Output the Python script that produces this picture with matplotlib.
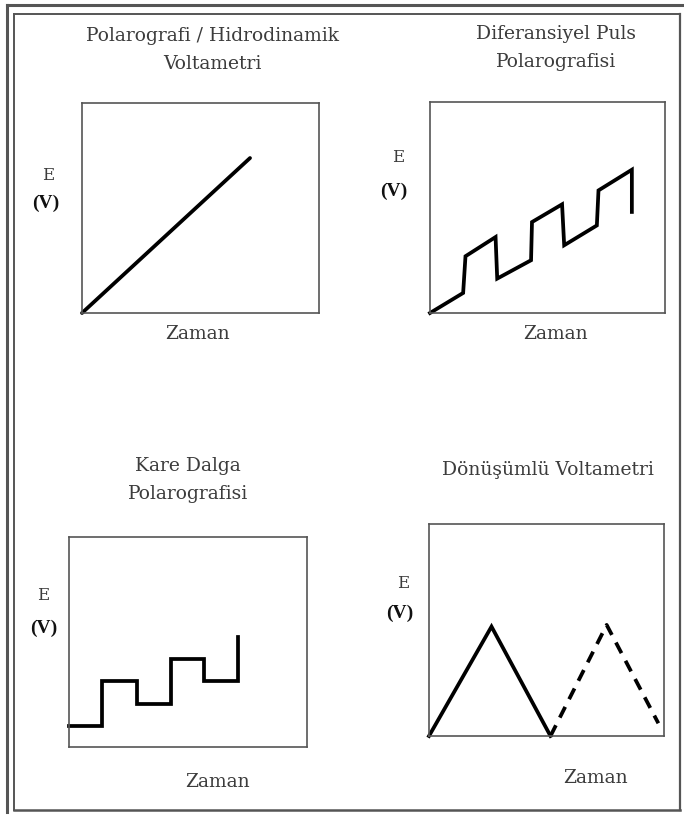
import matplotlib
matplotlib.use("Agg")
import matplotlib.pyplot as plt
from matplotlib.lines import Line2D

W, H = 684, 816

# Potential-time waveforms (time and potential as fractions of each frame)
linear_t = [0.0, 0.709]
linear_e = [0.0, 0.738]

dpp_t = [0.0, 0.141, 0.151, 0.279, 0.286, 0.430, 0.434, 0.562, 0.571, 0.710, 0.717, 0.859, 0.859]
dpp_e = [0.0, 0.095, 0.269, 0.360, 0.163, 0.250, 0.431, 0.515, 0.321, 0.415, 0.581, 0.679, 0.479]

swv_t = [0.0, 0.137, 0.137, 0.284, 0.284, 0.427, 0.427, 0.568, 0.568, 0.712, 0.712]
swv_e = [0.098, 0.098, 0.314, 0.314, 0.206, 0.206, 0.421, 0.421, 0.314, 0.314, 0.524]

cv_t = [0.0, 0.266, 0.517]
cv_e = [0.0, 0.516, 0.0]
cv2_t = [0.517, 0.756, 0.976]
cv2_e = [0.0, 0.524, 0.06]

titles = [
    "Polarografi / Hidrodinamik\nVoltametri",
    "Diferansiyel Puls\nPolarografisi",
    "Kare Dalga\nPolarografisi",
    "Dönüşümlü Voltametri",
]
x_label = "Zaman"
y_label_top = "E"
y_label_unit = "(V)"

# frame boxes in pixels: left, top, right, bottom
boxes = [(82, 103, 319, 313), (430, 102, 665, 313), (69, 537, 307, 747), (429, 524, 664, 736)]
title_pos = [(212, 50), (556, 48), (188, 480), (548, 470)]
e_pos = [(48, 175), (398, 158), (43, 596), (403, 583)]
v_pos = [(46, 203), (394, 191), (44, 628), (400, 613)]
zaman_pos = [(198, 334), (556, 334), (218, 782), (596, 778)]

GREY = "#3c3c3c"
serif = ["DejaVu Serif"]

fig = plt.figure(figsize=(W / 100, H / 100), dpi=100)
fig.patch.set_facecolor("white")


def fx(x):
    return x / W


def fy(y):
    return 1 - y / H


# double outer border
for xs, ys, lw in [
    ([7, 7], [5, 812], 2.2), ([7, 684], [5, 5], 2.2),
    ([14, 14], [14, 810], 1.4), ([14, 680], [14, 14], 1.4),
    ([680, 680], [14, 810], 1.6), ([14, 680], [810, 810], 1.8),
]:
    fig.add_artist(Line2D([fx(v) for v in xs], [fy(v) for v in ys],
                          transform=fig.transFigure, color="#555555", lw=lw))

axes = []
for (l, t, r, b) in boxes:
    ax = fig.add_axes([fx(l), fy(b), (r - l) / W, (b - t) / H])
    ax.set_xlim(0, 1)
    ax.set_ylim(0, 1)
    ax.set_xticks([])
    ax.set_yticks([])
    for s in ax.spines.values():
        s.set_color("#555555")
        s.set_linewidth(1.2)
    axes.append(ax)

lw = 2.7
axes[0].plot(linear_t, linear_e, color="black", lw=lw, solid_capstyle="round", clip_on=False)
axes[1].plot(dpp_t, dpp_e, color="black", lw=lw, solid_joinstyle="miter", clip_on=False)
axes[2].plot(swv_t, swv_e, color="black", lw=lw, solid_joinstyle="miter", clip_on=False)
axes[3].plot(cv_t, cv_e, color="black", lw=lw, solid_joinstyle="miter", clip_on=False)
axes[3].plot(cv2_t, cv2_e, color="black", lw=lw, linestyle=(0, (3.2, 2.3)), clip_on=False)

for i in range(4):
    tx, ty = title_pos[i]
    fig.text(fx(tx), fy(ty), titles[i], ha="center", va="center", fontsize=13.5,
             family=serif, color=GREY, linespacing=1.7)
    ex, ey = e_pos[i]
    fig.text(fx(ex), fy(ey), y_label_top, ha="center", va="center", fontsize=12,
             family=serif, color=GREY)
    vx, vy = v_pos[i]
    fig.text(fx(vx), fy(vy), y_label_unit, ha="center", va="center", fontsize=14,
             family=["Liberation Serif"], weight="bold", color="#111111")
    zx, zy = zaman_pos[i]
    fig.text(fx(zx), fy(zy), x_label, ha="center", va="center", fontsize=13.5,
             family=serif, color=GREY)

fig.savefig("out.png", dpi=100, facecolor="white")
